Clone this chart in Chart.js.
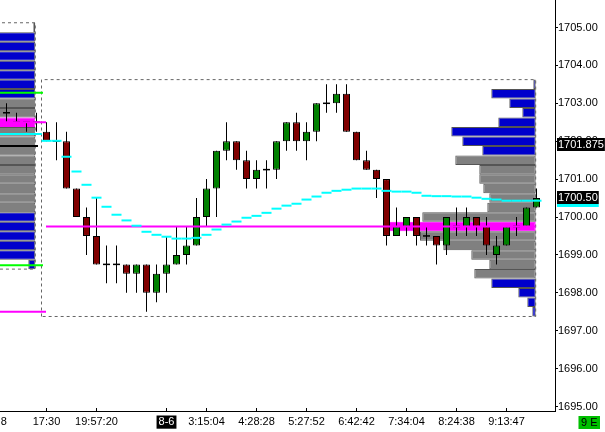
<!DOCTYPE html>
<html><head><meta charset="utf-8">
<script src="https://cdn.jsdelivr.net/npm/chart.js@4.4.1/dist/chart.umd.min.js"></script>
<style>html,body{margin:0;padding:0;background:#fff;overflow:hidden}</style>
</head><body>
<canvas id="c" width="605" height="432"></canvas>
<script>
// ---------- DATA ----------
// candles (index 0..3 = end of previous session, 4..53 = current session)
const opens = [1702.75,1702.5,1702.5,1702.5,
 1702.25,1702.0,1702.0,1700.75,1700.0,1699.5,1698.75,1698.75,1698.75,1698.5,
 1698.75,1698.0,1698.5,1698.75,1699.0,1699.25,1700.0,1700.75,1701.75,1702.0,
 1701.5,1701.0,1701.25,1701.25,1702.0,1702.5,1702.0,1702.25,1703.0,1703.0,
 1703.25,1702.25,1701.5,1701.25,1701.0,1699.5,1699.75,1700.0,1699.5,1699.5,
 1699.25,1699.75,1699.75,1700.0,1699.75,1699.0,1699.25,1699.75,1699.75,1700.25];
const highs = [1703.0,1702.75,1702.5,1702.75,
 1702.5,1702.5,1702.25,1700.75,1700.25,1700.5,1699.25,1699.25,1698.75,1698.75,
 1698.75,1698.75,1699.5,1699.75,1699.75,1700.5,1701.0,1701.75,1702.5,1702.0,
 1701.75,1701.5,1701.5,1702.0,1702.5,1702.75,1702.5,1703.0,1703.5,1703.5,
 1703.5,1702.25,1701.75,1701.25,1701.0,1700.25,1700.0,1700.0,1699.75,1699.5,
 1700.0,1700.25,1700.25,1700.0,1700.0,1699.5,1699.75,1700.0,1700.25,1700.75];
const lows = [1702.5,1702.5,1702.25,1702.25,
 1702.0,1701.5,1700.75,1700.0,1699.0,1698.75,1698.25,1698.25,1698.0,1698.0,
 1697.5,1697.75,1698.0,1698.75,1698.75,1699.25,1699.75,1700.0,1701.5,1701.25,
 1700.75,1700.75,1700.75,1701.0,1701.75,1701.75,1701.5,1702.0,1702.75,1702.75,
 1702.25,1701.5,1701.25,1700.5,1699.25,1699.5,1699.5,1699.25,1699.25,1698.75,
 1699.0,1699.5,1699.5,1699.5,1699.0,1698.75,1699.25,1699.5,1699.75,1700.25];
const closes = [1702.75,1702.5,1702.5,1702.5,
 1702.0,1702.0,1700.75,1700.0,1699.5,1698.75,1698.75,1698.75,1698.5,1698.75,
 1698.0,1698.5,1698.75,1699.0,1699.25,1700.0,1700.75,1701.75,1702.0,1701.5,
 1701.0,1701.25,1701.25,1702.0,1702.5,1702.0,1702.25,1703.0,1703.0,1703.25,
 1702.25,1701.5,1701.25,1701.0,1699.5,1699.75,1700.0,1699.5,1699.5,1699.25,
 1700.0,1699.75,1700.0,1699.75,1699.25,1699.25,1699.75,1699.75,1700.25,1700.5];
const sessionStart = 4;
// VWAP of current session (one value per current-session candle)
const vwap = [1702.01,1702.01,1701.59,1701.20,1700.85,1700.51,1700.27,1700.06,1699.91,1699.77,
 1699.61,1699.53,1699.48,1699.43,1699.43,1699.45,1699.53,1699.67,1699.80,1699.88,
 1699.98,1700.03,1700.11,1700.22,1700.30,1700.35,1700.46,1700.54,1700.64,1700.69,
 1700.72,1700.75,1700.75,1700.75,1700.69,1700.67,1700.67,1700.64,1700.56,1700.55,
 1700.55,1700.54,1700.54,1700.51,1700.48,1700.46,1700.43,1700.43,1700.43,1700.43];
// current session volume profile
const profPrices = [1703.5,1703.25,1703.0,1702.75,1702.5,1702.25,1702.0,1701.75,1701.5,1701.25,
 1701.0,1700.75,1700.5,1700.25,1700.0,1699.75,1699.5,1699.25,1699.0,1698.75,1698.5,1698.25,1698.0,1697.75,1697.5];
const profVol = [24,444,264,134,374,844,734,534,804,564,564,524,464,484,1134,1470,1157,924,644,464,614,444,174,84,34];
const profPOC = 1699.75, profVAH = 1701.5, profVAL = 1698.5;
// previous session volume profile
const prevPrices = [1705.0,1704.75,1704.5,1704.25,1704.0,1703.75,1703.5,1703.25,1703.0,1702.75,1702.5,1702.25,1702.0,
 1701.75,1701.5,1701.25,1701.0,1700.75,1700.5,1700.25,1700.0,1699.75,1699.5,1699.25,1699.0,1698.75];
const prevVol = [20,520,610,680,720,650,700,760,900,1100,1450,1250,1150,1000,950,900,880,850,800,760,700,620,560,480,400,70];
const prevPOC = 1702.5, prevVAH = 1703.0, prevVAL = 1700.25;
// previous-session reference levels
const prevLevelNames = ['vaHighLine','vaLowLine','prevVwap','settle','prevPocLine','prevLowLine'];
const prevLevelPrices = [1703.28,1698.73,1702.19,1701.875,1702.5,1697.5];
const prevLevelEnd = [3.65,3.65,3.52,3.15,3.95,3.95];
// axis ticks
const yTickValues = [1695,1696,1697,1698,1699,1700,1701,1702,1703,1704,1705];
const xTickPos = [-0.26,4,9,16,20,25,30,35,40,45,50];
const xTickLabels = ['8','17:30','19:57:20','8-6','3:15:04','4:28:28','5:27:52','6:42:42','7:34:04','8:24:38','9:13:47'];
const dateTickLabel = '8-6';
// right axis price tags
const tagPrices = [1701.875, 1700.50];
const tagTexts = ['1701.875','1700.50'];
const statusText = '9 E';

// ---------- VIEW / STYLE ----------
const xView = [-0.65, 54.85];
const yView = [1694.8813, 1705.7256];
const profAnchor = 52.92, prevAnchor = 2.88, volUnit = 0.01, tick = 0.25;
const GREEN = '#008000', RED = '#800000', BLUE = '#0000cc', GRAY = '#808080', MAG = '#ff00ff', CYAN = '#00ffff';
const levelStyle = {vaHighLine:'#00ff00', vaLowLine:'#00ff00', prevVwap:CYAN, settle:'#000000', prevPocLine:MAG, prevLowLine:MAG};
const FONT = '"Liberation Sans", Arial, sans-serif';

// ---------- BUILD ----------
const idx = opens.map((_, i) => i);
const wickData = idx.map(i => ({x: i, y: [lows[i], highs[i]]}));
const bodyIdx = idx.filter(i => opens[i] !== closes[i]);
const bodyData = bodyIdx.map(i => ({x: i, y: [opens[i], closes[i]]}));
const bodyColors = bodyIdx.map(i => closes[i] > opens[i] ? GREEN : RED);
const dojiData = idx.filter(i => opens[i] === closes[i]).map(i => ({x: i, y: opens[i]}));
const vwapData = vwap.map((v, k) => ({x: sessionStart + k, y: v}));

function profColor(p, poc, vah, val) { return p === poc ? MAG : (p <= vah && p >= val ? GRAY : BLUE); }
const profData = profPrices.map((p, k) => ({y: p, x: [profAnchor - profVol[k] * volUnit, profAnchor]}));
const profColors = profPrices.map(p => profColor(p, profPOC, profVAH, profVAL));
const profBorders = profPrices.map(p => p === profPOC ? MAG : '#555555');
const prevData = prevPrices.map((p, k) => ({y: p, x: [prevAnchor - prevVol[k] * volUnit, prevAnchor]}));
const prevColors = prevPrices.map(p => profColor(p, prevPOC, prevVAH, prevVAL));
const prevBorders = prevPrices.map(p => p === prevPOC ? MAG : '#555555');

const sessHigh = Math.max(...highs.slice(sessionStart)) + tick / 2;
const sessLow = Math.min(...lows.slice(sessionStart)) - tick / 2;
const mainBox = [{x: sessionStart - 0.5, y: sessLow}, {x: sessionStart - 0.5, y: sessHigh}, {x: profAnchor, y: sessHigh}, {x: profAnchor, y: sessLow}, {x: sessionStart - 0.5, y: sessLow}];
const prevHi = Math.max(...prevPrices) + tick / 2, prevLo = Math.min(...prevPrices) - tick / 2;
const prevBox = [{x: xView[0] - 1, y: prevHi}, {x: prevAnchor, y: prevHi}, {x: prevAnchor, y: prevLo}, {x: xView[0] - 1, y: prevLo}];

const datasets = [];
datasets.push({type:'bar', indexAxis:'y', data: prevData, backgroundColor: prevColors, borderColor: prevBorders, borderWidth: 1, borderSkipped: false, barThickness: 9.5, grouped: false, inflateAmount: 0, order: 30});
datasets.push({type:'bar', indexAxis:'y', data: profData, backgroundColor: profColors, borderColor: profBorders, borderWidth: 1, borderSkipped: false, barThickness: 9.5, grouped: false, inflateAmount: 0, order: 30});
[mainBox, prevBox].forEach(b => datasets.push({type:'line', data: b, borderColor:'#666666', borderWidth: 1, borderDash:[3,3], pointRadius: 0, fill: false, tension: 0, order: 25}));
datasets.push({type:'bar', data: wickData, backgroundColor:'#000', borderWidth: 0, barThickness: 1, grouped: false, inflateAmount: 0, order: 12});
datasets.push({type:'bar', data: bodyData, backgroundColor: bodyColors, borderColor:'#000', borderWidth: 1, borderSkipped: false, barThickness: 7, grouped: false, inflateAmount: 0, order: 11});
datasets.push({type:'scatter', data: dojiData, pointStyle:'line', pointRadius: 3.5, pointBorderWidth: 1.5, pointBorderColor:'#000', order: 10});
prevLevelNames.forEach((n, k) => datasets.push({type:'line', data: [{x: xView[0] - 1, y: prevLevelPrices[k]}, {x: prevLevelEnd[k], y: prevLevelPrices[k]}], borderColor: levelStyle[n], borderWidth: 2, pointRadius: 0, fill: false, order: 6}));
datasets.push({type:'line', data: [{x: sessionStart - 0.05, y: profPOC}, {x: profAnchor, y: profPOC}], borderColor: MAG, borderWidth: 2, pointRadius: 0, fill: false, order: 5});
datasets.push({type:'scatter', data: vwapData, pointStyle:'line', pointRadius: 5, pointBorderWidth: 2, pointBorderColor: CYAN, order: 4});

const tagPlugin = {
  id: 'tags',
  afterDraw(chart) {
    const ys = chart.scales.y, xs = chart.scales.x, ctx = chart.ctx;
    ctx.save();
    ctx.font = '11px ' + FONT;
    ctx.textBaseline = 'middle';
    tagPrices.forEach((p, k) => {
      const y = ys.getPixelForValue(p);
      const w = ctx.measureText(tagTexts[k]).width + 2;
      const x = ys.left + 2;
      const top = Math.round(y - 7.5);
      ctx.fillStyle = '#000';
      ctx.fillRect(x, top, w, 13);
      ctx.fillStyle = '#fff';
      ctx.fillText(tagTexts[k], x + 1, top + 7);
      if (p === closes[closes.length - 1]) { ctx.fillStyle = CYAN; ctx.fillRect(x, top + 13, w, 3); }
    });
    // status box
    const sw = ctx.measureText(statusText).width + 5;
    const sx = chart.width - 5 - sw, sy = xs.top + 5;
    ctx.fillStyle = '#00c000';
    ctx.fillRect(sx, sy, sw, 13);
    ctx.fillStyle = '#000';
    ctx.fillText(statusText, sx + 2.5, sy + 7);
    ctx.restore();
  }
};

new Chart(document.getElementById('c'), {
  type: 'bar',
  data: {datasets},
  plugins: [tagPlugin],
  options: {
    responsive: false, animation: false, devicePixelRatio: 1, events: [],
    layout: {padding: 0, autoPadding: false},
    plugins: {legend: {display: false}, tooltip: {enabled: false}},
    scales: {
      x: {
        type: 'linear', min: xView[0], max: xView[1], offset: false, beginAtZero: false,
        grid: {drawOnChartArea: false, drawTicks: true, tickLength: -3, offset: false,
               tickColor: c => c.index === 0 ? 'rgba(0,0,0,0)' : '#000'},
        border: {display: true, color: '#000', width: 1},
        afterBuildTicks: s => { s.ticks = xTickPos.map(v => ({value: v})); },
        ticks: {autoSkip: false, maxRotation: 0, minRotation: 0, padding: 7.5,
                font: {family: FONT, size: 11},
                color: c => xTickLabels[c.index] === dateTickLabel ? '#fff' : '#000',
                showLabelBackdrop: c => xTickLabels[c.index] === dateTickLabel,
                backdropColor: '#000', backdropPadding: {left: 2, right: 2, top: 0, bottom: 0},
                callback: (v, i) => xTickLabels[i]},
        afterFit: s => { s.height = 21; s.paddingLeft = 0; s.paddingRight = 0; }
      },
      y: {
        type: 'linear', position: 'right', min: yView[0], max: yView[1], offset: false, beginAtZero: false,
        grid: {drawOnChartArea: false, drawTicks: true, tickLength: 3, tickColor: '#000', offset: false},
        border: {display: true, color: '#000', width: 1},
        afterBuildTicks: s => { s.ticks = yTickValues.map(v => ({value: v})); },
        ticks: {padding: 0, font: {family: FONT, size: 11}, color: '#000', callback: v => v.toFixed(2)},
        afterFit: s => { s.width = 50; s.paddingTop = 0; s.paddingBottom = 0; }
      }
    }
  }
});
</script>
</body></html>
